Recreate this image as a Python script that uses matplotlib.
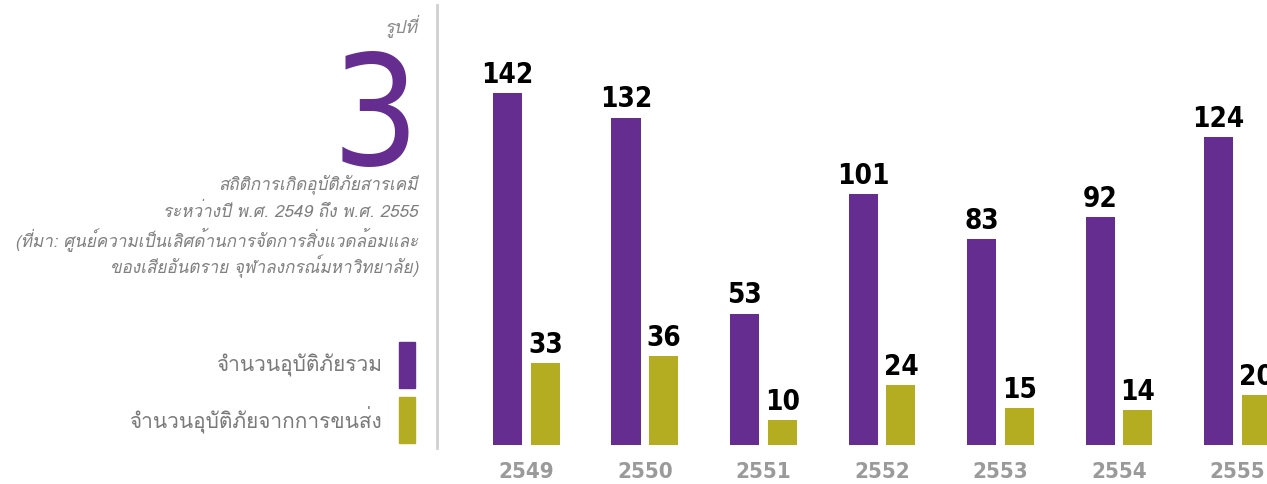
import matplotlib
matplotlib.use("Agg")
import matplotlib.pyplot as plt
from matplotlib import font_manager
from matplotlib.ft2font import FT2Font

years = ["2549", "2550", "2551", "2552", "2553", "2554", "2555"]
total = [142, 132, 53, 101, 83, 92, 124]
transport = [33, 36, 10, 24, 15, 14, 20]

legend_labels = ["จำนวนอุบัติภัยรวม", "จำนวนอุบัติภัยจากการขนส่ง"]
fig_label = "รูปที่"
fig_number = "3"
caption = ["สถิติการเกิดอุบัติภัยสารเคมี",
           "ระหว่างปี พ.ศ. 2549 ถึง พ.ศ. 2555",
           "(ที่มา: ศูนย์ความเป็นเลิศด้านการจัดการสิ่งแวดล้อมและ",
           "ของเสียอันตราย จุฬาลงกรณ์มหาวิทยาลัย)"]

purple = "#652d8f"
olive = "#b4ad22"


def thai_font():
    # look for any installed font that has Thai glyphs
    for f in font_manager.fontManager.ttflist:
        try:
            if FT2Font(f.fname).get_char_index(ord("ก")):
                return f.name
        except Exception:
            pass
    return "DejaVu Sans"


thai = [thai_font(), "DejaVu Sans"]
narrow = ["Liberation Sans Narrow", "DejaVu Sans"]

W, H = 1267, 484
fig = plt.figure(figsize=(W / 100, H / 100), dpi=100)

# bar axes: left edge at the grey divider, baseline at y=445 px from top
ax = fig.add_axes([437 / W, 39 / H, (W - 437) / W, 445 / H])
ax.set_xlim(-0.755, 6.249)
ax.set_ylim(0, 179.4)
ax.axis("off")

x = list(range(len(years)))
bw = 0.245
b1 = ax.bar([i - 0.16 for i in x], total, bw, color=purple)
b2 = ax.bar([i + 0.16 for i in x], transport, bw, color=olive)

for bars, vals in ((b1, total), (b2, transport)):
    for b, v in zip(bars, vals):
        ax.annotate(str(v), (b.get_x() + b.get_width() / 2, v),
                    xytext=(0, 3), textcoords="offset points",
                    ha="center", va="bottom", fontsize=20,
                    fontweight="bold", fontstretch="condensed",
                    family=narrow, color="black")

for i, y in zip(x, years):
    ax.text(i, -7, y, ha="center", va="top", fontsize=16,
            fontweight="bold", fontstretch="condensed", family=narrow,
            color="#9a9a9a", clip_on=False)

# left panel
fig.add_artist(plt.Line2D([437 / W, 437 / W], [36 / H, 479 / H],
                          color="#d0d0d0", lw=2))

fig.text(418 / W, 1 - 26 / H, fig_label, ha="right", va="center",
         fontsize=13, style="italic", family=thai, color="#8a8a8a")
fig.text(419 / W, 1 - 165 / H, fig_number, ha="right", va="baseline",
         fontsize=110, fontweight="light", fontstretch="condensed",
         family=narrow, color=purple)

for k, line in enumerate(caption):
    fig.text(418 / W, 1 - (185 + 27 * k) / H, line, ha="right",
             va="center", fontsize=12.3, style="italic", family=thai,
             color="#808080")

for k, (lab, c) in enumerate(zip(legend_labels, [purple, olive])):
    yc = 365 + 55 * k
    fig.add_artist(plt.Rectangle((399 / W, 1 - (yc + 23) / H), 16 / W,
                                 46 / H, color=c))
    fig.text(382 / W, 1 - yc / H, lab, ha="right", va="center",
             fontsize=15, family=thai, color="#7a7a7a")

fig.savefig("out.png", dpi=100)
